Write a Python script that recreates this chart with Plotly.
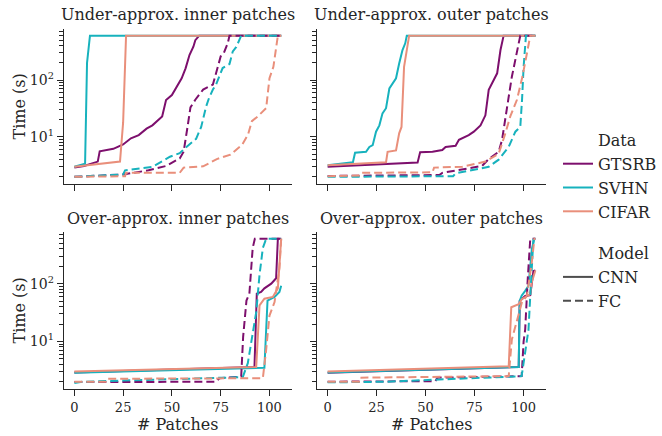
import plotly.graph_objects as go

# ---------------- data ----------------
datasets = ["GTSRB", "SVHN", "CIFAR"]
models = ["CNN", "FC"]
panel_titles = ["Under-approx. inner patches", "Under-approx. outer patches",
                "Over-approx. inner patches", "Over-approx. outer patches"]
x_ticks = [0, 25, 50, 75, 100]
y_major = [10, 100]
y_major_text = ["10<sup>1</sup>", "10<sup>2</sup>"]
y_minor = [2, 3, 4, 5, 6, 7, 8, 9, 20, 30, 40, 50, 60, 70, 80, 90, 200, 300, 400, 500, 600, 700]

# Under-approx. inner patches
ui_gtsrb_cnn_x = [0, 5, 12, 13, 20, 25, 29, 33, 37, 40, 45, 47, 50, 52, 55, 57, 59, 61, 62, 64, 106]
ui_gtsrb_cnn_y = [2.9, 3.1, 3.7, 5.6, 6.2, 7.4, 9.5, 10.8, 14, 16, 22.8, 44.7, 54.6, 71, 107, 160, 274, 384, 500, 600, 600]
ui_svhn_cnn_x = [0, 5.5, 6.5, 8, 106]
ui_svhn_cnn_y = [3.0, 3.4, 200, 600, 600]
ui_cifar_cnn_x = [0, 23.4, 25, 26.5, 106]
ui_cifar_cnn_y = [3.0, 3.7, 18, 600, 600]
ui_gtsrb_fc_x = [0, 25, 38, 47, 54, 56, 58, 59.5, 62, 66, 71, 75, 76.6, 78.6, 79.5, 106]
ui_gtsrb_fc_y = [2.0, 2.2, 2.6, 3.1, 4.2, 5.5, 15, 33, 45, 68, 83, 260, 297, 440, 600, 600]
ui_svhn_fc_x = [0, 25, 26, 40, 49, 54, 57, 62.4, 65, 67.5, 69, 71, 72.6, 74.4, 76, 79.5, 81.2, 83, 85.5, 106]
ui_svhn_fc_y = [2.0, 2.2, 2.6, 3.0, 4.5, 5.2, 6.5, 9.3, 15, 34, 48, 68, 83, 122, 162, 190, 318, 380, 600, 600]
ui_cifar_fc_x = [0, 26, 26.5, 54, 56, 66, 73, 80, 86, 89, 91, 94, 98.3, 100, 102, 104.3, 106]
ui_cifar_fc_y = [2.0, 2.05, 2.35, 2.35, 2.9, 3.05, 4.1, 4.9, 7.3, 11, 19, 23, 32, 108, 170, 600, 600]

# Under-approx. outer patches
uo_gtsrb_cnn_x = [0, 45.9, 47.2, 53.5, 58.5, 60.2, 65.3, 67, 72, 74.6, 78, 80.5, 82.2, 83.9, 86.5, 88.2, 89.8, 106]
uo_gtsrb_cnn_y = [3.0, 3.55, 5.4, 5.5, 5.9, 6.7, 7.0, 8.9, 10.8, 12.4, 16, 24, 67, 87, 131, 336, 600, 600]
uo_svhn_cnn_x = [0, 12.9, 14, 19.6, 21.3, 23, 24.7, 26.4, 28, 29.8, 31.5, 34.9, 36.5, 38.2, 39.6, 40.4, 106]
uo_svhn_cnn_y = [3.2, 3.6, 5.3, 5.5, 6.7, 7.2, 12.4, 16, 26, 32, 71, 107, 195, 336, 440, 600, 600]
uo_cifar_cnn_x = [0, 29.8, 30.6, 34.9, 36.5, 37.7, 39, 40.8, 41.6, 106]
uo_cifar_cnn_y = [3.2, 3.6, 5.5, 5.8, 11.6, 15, 170, 385, 600, 600]
uo_gtsrb_fc_x = [0, 39, 57, 58.5, 78.8, 82.2, 87.3, 89, 90.7, 92.4, 94, 95.8, 97.5, 98.3, 106]
uo_gtsrb_fc_y = [2.07, 2.1, 2.15, 2.35, 3.1, 4.1, 5.5, 8.9, 23, 51, 114, 225, 440, 600, 600]
uo_svhn_fc_x = [0, 39, 64, 65.3, 82.2, 87.3, 92.4, 95.8, 98.3, 99.2, 100, 101.2, 106]
uo_svhn_fc_y = [2.0, 2.0, 2.05, 2.3, 3.0, 4.0, 6.7, 12.4, 15, 45, 170, 600, 600]
uo_cifar_fc_x = [0, 16, 17, 53.5, 54.3, 68.7, 80.5, 87.3, 90.7, 93.2, 96.6, 99.2, 101.7, 103.4, 106]
uo_cifar_fc_y = [2.05, 2.1, 2.35, 2.4, 2.9, 3.0, 3.7, 5.1, 11.6, 23, 45, 107, 294, 600, 600]

# Over-approx. inner patches
oi_gtsrb_cnn_x = [0, 92.3, 93.5, 95.7, 97.4, 100.9, 103.4, 104.3, 106]
oi_gtsrb_cnn_y = [2.9, 3.6, 67, 72, 83, 100, 124, 600, 600]
oi_svhn_cnn_x = [0, 97.4, 99, 102.6, 105.1, 106]
oi_svhn_cnn_y = [2.85, 3.5, 51, 59, 72, 92]
oi_cifar_cnn_x = [0, 93.2, 94.9, 97.4, 101.7, 104.3, 106]
oi_cifar_cnn_y = [3.0, 3.6, 42, 55, 59, 83, 600]
oi_gtsrb_fc_x = [0, 72.6, 74.4, 85.5, 86.5, 87.5, 88.2, 89.7, 91.4, 92.5, 106]
oi_gtsrb_fc_y = [1.97, 2.0, 2.3, 2.46, 12, 30, 51, 67, 415, 600, 600]
oi_svhn_fc_x = [0, 4.3, 86.3, 88.9, 93.2, 94.9, 96.6, 98.3, 106]
oi_svhn_fc_y = [1.9, 2.0, 2.4, 4.2, 32, 142, 415, 600, 600]
oi_cifar_fc_x = [0, 16, 16.5, 96.6, 98.3, 100, 102.6, 105.1, 106]
oi_cifar_fc_y = [2.0, 2.0, 2.25, 2.3, 7.2, 28, 48, 186, 600]

# Over-approx. outer patches
oo_gtsrb_cnn_x = [0, 97.5, 98, 100.8, 103.4, 105, 106]
oo_gtsrb_cnn_y = [2.85, 3.6, 50, 61, 63, 166, 170]
oo_svhn_cnn_x = [0, 97.5, 98, 99, 100.8, 102.5, 104.2, 105.5, 106]
oo_svhn_cnn_y = [2.9, 3.6, 50, 62, 75, 92, 400, 600, 600]
oo_cifar_cnn_x = [0, 92.4, 93.7, 97.5, 99.1, 103.4, 104.2, 106]
oo_cifar_cnn_y = [3.0, 3.7, 39, 44, 54, 66, 107, 169]
oo_gtsrb_fc_x = [0, 55, 56, 99, 100, 100.8, 102.1, 103.4, 106]
oo_gtsrb_fc_y = [2.0, 2.05, 2.35, 2.5, 10, 16, 120, 600, 600]
oo_svhn_fc_x = [0, 30, 99, 100.8, 102.5, 103.4, 105, 106]
oo_svhn_fc_y = [1.95, 2.0, 2.5, 6.7, 16, 62, 600, 600]
oo_cifar_fc_x = [0, 16, 16.5, 92.4, 94, 96.6, 99.1, 101.7, 104.2, 105.5, 106]
oo_cifar_fc_y = [2.0, 2.0, 2.35, 2.5, 10.8, 24, 47, 62, 236, 600, 600]

panels = [
    {"GTSRB": {"CNN": (ui_gtsrb_cnn_x, ui_gtsrb_cnn_y), "FC": (ui_gtsrb_fc_x, ui_gtsrb_fc_y)},
     "SVHN": {"CNN": (ui_svhn_cnn_x, ui_svhn_cnn_y), "FC": (ui_svhn_fc_x, ui_svhn_fc_y)},
     "CIFAR": {"CNN": (ui_cifar_cnn_x, ui_cifar_cnn_y), "FC": (ui_cifar_fc_x, ui_cifar_fc_y)}},
    {"GTSRB": {"CNN": (uo_gtsrb_cnn_x, uo_gtsrb_cnn_y), "FC": (uo_gtsrb_fc_x, uo_gtsrb_fc_y)},
     "SVHN": {"CNN": (uo_svhn_cnn_x, uo_svhn_cnn_y), "FC": (uo_svhn_fc_x, uo_svhn_fc_y)},
     "CIFAR": {"CNN": (uo_cifar_cnn_x, uo_cifar_cnn_y), "FC": (uo_cifar_fc_x, uo_cifar_fc_y)}},
    {"GTSRB": {"CNN": (oi_gtsrb_cnn_x, oi_gtsrb_cnn_y), "FC": (oi_gtsrb_fc_x, oi_gtsrb_fc_y)},
     "SVHN": {"CNN": (oi_svhn_cnn_x, oi_svhn_cnn_y), "FC": (oi_svhn_fc_x, oi_svhn_fc_y)},
     "CIFAR": {"CNN": (oi_cifar_cnn_x, oi_cifar_cnn_y), "FC": (oi_cifar_fc_x, oi_cifar_fc_y)}},
    {"GTSRB": {"CNN": (oo_gtsrb_cnn_x, oo_gtsrb_cnn_y), "FC": (oo_gtsrb_fc_x, oo_gtsrb_fc_y)},
     "SVHN": {"CNN": (oo_svhn_cnn_x, oo_svhn_cnn_y), "FC": (oo_svhn_fc_x, oo_svhn_fc_y)},
     "CIFAR": {"CNN": (oo_cifar_cnn_x, oo_cifar_cnn_y), "FC": (oo_cifar_fc_x, oo_cifar_fc_y)}},
]

# ---------------- style ----------------
W, H = 662, 436
FONT = "DejaVu Serif"
TXT = "#262626"
colors = {"GTSRB": "#7d0f6d", "SVHN": "#17b2bd", "CIFAR": "#e98f7b"}
dashes = {"CNN": "solid", "FC": "8px,4px"}
LW = 2

def px_x(p):
    return p / W

def px_y(p):
    return 1 - p / H

x_domains = [(64, 293), (318, 548)]
y_domains = [(29, 184), (232, 389)]

fig = go.Figure()

for i, panel in enumerate(panels):
    r, c = divmod(i, 2)
    ax = "" if i == 0 else str(i + 1)
    for model in models:
        for ds in datasets:
            xs, ys = panel[ds][model]
            fig.add_trace(go.Scatter(
                x=xs, y=ys, mode="lines",
                line=dict(color=colors[ds], width=LW, dash=dashes[model]),
                showlegend=False, hoverinfo="skip",
                xaxis="x" + ax, yaxis="y" + ax))
    xd = x_domains[c]
    yd = y_domains[r]
    common_x = dict(
        domain=[px_x(xd[0]), px_x(xd[1])], range=[-5.4, 111.6],
        showline=True, linecolor=TXT, linewidth=1.25, mirror=False,
        ticks="outside", ticklen=6, tickwidth=1.25, tickcolor=TXT,
        tickvals=x_ticks, showticklabels=(r == 1),
        tickfont=dict(family=FONT, size=13, color=TXT),
        showgrid=False, zeroline=False, anchor="y" + ax,
    )
    common_y = dict(
        domain=[px_y(yd[1]), px_y(yd[0])], type="log", range=[0.175, 2.895],
        showline=True, linecolor=TXT, linewidth=1.25,
        ticks="outside", ticklen=6, tickwidth=1.25, tickcolor=TXT,
        tickvals=y_major, ticktext=y_major_text, showticklabels=(c == 0),
        tickfont=dict(family=FONT, size=14, color=TXT),
        minor=dict(ticks="outside", ticklen=3.5, tickwidth=1, tickcolor=TXT,
                   tickvals=y_minor, showgrid=False),
        showgrid=False, zeroline=False, anchor="x" + ax,
    )
    fig.layout["xaxis" + ax] = common_x
    fig.layout["yaxis" + ax] = common_y

    fig.add_annotation(text=panel_titles[i], xref="paper", yref="paper",
                       x=px_x((xd[0] + xd[1]) / 2), y=px_y(yd[0] - 14),
                       xanchor="center", yanchor="middle", showarrow=False,
                       font=dict(family=FONT, size=16, color=TXT))
    if c == 0:
        fig.add_annotation(text="Time (s)", xref="paper", yref="paper",
                           x=px_x(20), y=px_y((yd[0] + yd[1]) / 2), textangle=-90,
                           xanchor="center", yanchor="middle", showarrow=False,
                           font=dict(family=FONT, size=16, color=TXT))
    if r == 1:
        fig.add_annotation(text="# Patches", xref="paper", yref="paper",
                           x=px_x((xd[0] + xd[1]) / 2), y=px_y(424),
                           xanchor="center", yanchor="middle", showarrow=False,
                           font=dict(family=FONT, size=16, color=TXT))

# legend entries
fig.add_trace(go.Scatter(x=[None], y=[None], mode="lines", name="Data",
                         line=dict(color="rgba(0,0,0,0)", width=LW),
                         legendgroup="data", showlegend=True))
for ds in datasets:
    fig.add_trace(go.Scatter(x=[None], y=[None], mode="lines", name=ds,
                             line=dict(color=colors[ds], width=LW),
                             legendgroup="data", showlegend=True))
fig.add_trace(go.Scatter(x=[None], y=[None], mode="lines", name="Model",
                         line=dict(color="rgba(0,0,0,0)", width=LW),
                         legendgroup="model", showlegend=True))
for m in models:
    fig.add_trace(go.Scatter(x=[None], y=[None], mode="lines", name=m,
                             line=dict(color="#4d4d4d", width=LW, dash=dashes[m]),
                             legendgroup="model", showlegend=True))

fig.update_layout(
    width=W, height=H,
    margin=dict(l=0, r=0, t=0, b=0),
    paper_bgcolor="white", plot_bgcolor="white",
    font=dict(family=FONT, size=16, color=TXT),
    legend=dict(x=px_x(560), y=px_y(123), xanchor="left", yanchor="top",
                traceorder="grouped", tracegroupgap=18,
                font=dict(family=FONT, size=16, color=TXT),
                bgcolor="rgba(0,0,0,0)"),
)

fig.write_html("out.html")
